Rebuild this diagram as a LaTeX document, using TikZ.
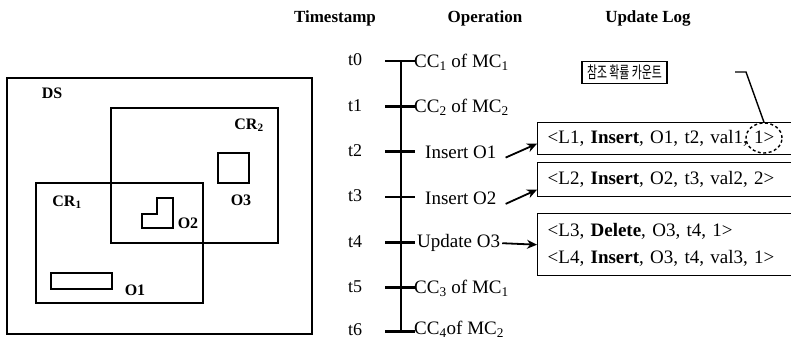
\documentclass[tikz,border=0pt]{standalone}
\usepackage{fontspec}
\setmainfont{Liberation Serif}
\newfontfamily\kr[FakeStretch=0.66]{Noto Sans CJK KR}
\usetikzlibrary{arrows.meta,shapes.geometric}
\begin{document}
\begin{tikzpicture}[x=1pt,y=-1pt,
  dsbox/.style={draw, line width=2.6pt},
  region/.style={draw, line width=1.4pt},
  obj/.style={draw, line width=1.9pt},
  lbl/.style={font=\fontsize{16}{16}\selectfont\bfseries, inner sep=0pt},
  head/.style={font=\fontsize{17}{17}\selectfont\bfseries, inner sep=0pt},
  tlab/.style={font=\fontsize{18}{18}\selectfont, inner sep=0pt},
  oplab/.style={font=\fontsize{19}{19}\selectfont, inner sep=0pt, anchor=west},
  tickline/.style={line width=2.6pt},
  axis/.style={line width=2.8pt},
  logbox/.style={draw, line width=1.4pt, anchor=north west, inner xsep=10pt, inner ysep=0pt,
     text width=270pt, align=left, font=\fontsize{19}{27}\selectfont},
  arr/.style={line width=1.8pt, -{Stealth[length=10pt,width=9pt]}},
  notebox/.style={draw, line width=1.4pt, inner sep=0pt, minimum width=85pt, minimum height=22pt,
     font=\kr\fontsize{16.5}{16.5}\selectfont},
  circ/.style={draw, dashed, ellipse, line width=1.4pt, dash pattern=on 3pt off 2.5pt,
     minimum width=36pt, minimum height=30pt, inner sep=0pt},
  leader/.style={line width=1.4pt}
]
\useasboundingbox (0,0) rectangle (791,340);
\clip (0,0) rectangle (791,340);

% headers
\node[head] (hts) at (335,18) {Timestamp};
\node[head] (hop) at (485,18) {Operation};
\node[head] (hlog) at (648,18) {Update Log};

% left panel
\draw[dsbox] (7,78) rectangle (312,334);
\node[lbl] (ds) at (52,93) {DS};
\draw[region] (111,108) rectangle (278,243);
\node[lbl] (cr2) at (249,125) {CR\textsubscript{2}};
\draw[obj] (218,153) rectangle (249,183);
\node[lbl] (o3) at (241,200) {O3};
\draw[region] (36,183) rectangle (203,303);
\node[lbl] (cr1) at (67,202) {CR\textsubscript{1}};
\draw[obj] (142,214) -- (157,214) -- (157,198) -- (173,198) -- (173,228) -- (142,228) -- cycle;
\node[lbl] (o2) at (188,223) {O2};
\draw[obj] (51,273) rectangle (112,289);
\node[lbl] (o1) at (135,290) {O1};

% timeline
\foreach \i/\y in {0/61,1/106.3,2/151.6,3/196.9,4/242.2,5/287.5}{
  \node[tlab] (t\i) at (355,\y-1) {t\i};
  \coordinate (l\i) at (385,\y);
  \coordinate (r\i) at (415,\y);
  \draw[tickline] (l\i) -- (r\i);
}
\node[tlab] (t6) at (355,329.5) {t6};
\coordinate (l6) at (385,331.5);
\coordinate (r6) at (415,331.5);
\draw[tickline] (l6) -- (r6);
\coordinate (top) at (401,61);
\coordinate (bot) at (401,333);
\draw[axis] (top) -- (bot);

\node[oplab] (op0) at (414,62) {CC\textsubscript{1} of MC\textsubscript{1}};
\node[oplab] (op1) at (414,107.3) {CC\textsubscript{2} of MC\textsubscript{2}};
\node[oplab] (op2) at (425,152.6) {Insert O1};
\node[oplab] (op3) at (425,197.9) {Insert O2};
\node[oplab] (op4) at (417,243.2) {Update O3};
\node[oplab] (op5) at (414,288.5) {CC\textsubscript{3} of MC\textsubscript{1}};
\node[oplab] (op6) at (414,329.5) {CC\textsubscript{4}of MC\textsubscript{2}};

% update log
\node[logbox, minimum height=32pt] (log1) at (537,122) {<L1, \textbf{Insert}, O1, t2, val1, 1>};
\node[logbox, minimum height=34pt] (log2) at (537,162) {<L2, \textbf{Insert}, O2, t3, val2, 2>};
\node[logbox, minimum height=62pt] (log3) at (537,213) {<L3, \textbf{Delete}, O3, t4, 1>\\<L4, \textbf{Insert}, O3, t4, val3, 1>};

\draw[arr] ([xshift=9pt,yshift=-5pt]op2.east) -- ([yshift=-5pt]log1.west);
\draw[arr] ([xshift=9pt,yshift=-6pt]op3.east) -- ([yshift=-10pt]log2.west);
\draw[arr] ([xshift=2pt]op4.east) -- (log3.west);

% annotation
\node[notebox] (note) at (624.5,72.5) {참조 확률 카운트};
\node[circ] (cnt) at (764,138) {};
\coordinate (lead) at (735,72);
\draw[leader] (lead) -- (746,72) -- (cnt.north);
\end{tikzpicture}
\end{document}
